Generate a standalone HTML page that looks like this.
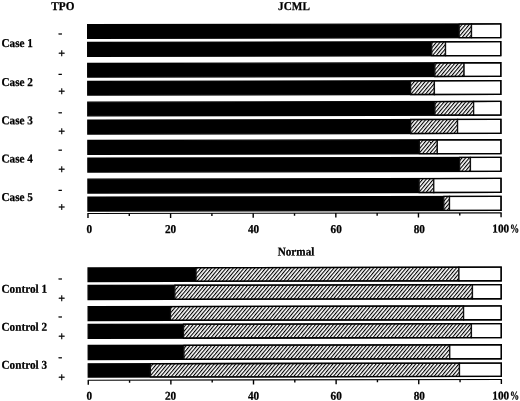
<!DOCTYPE html>
<html><head><meta charset="utf-8"><title>TPO JCML chart</title>
<style>
html,body{margin:0;padding:0;background:#fff;}
body{width:520px;height:401px;overflow:hidden;}
svg{display:block;}
svg text{font-family:"Liberation Serif","Times New Roman",serif;font-weight:bold;font-size:12px;fill:#000;stroke:#000;stroke-width:0.25px;}
</style></head>
<body>
<svg width="520" height="401" viewBox="0 0 520 401">
<defs>
<pattern id="hatch" patternUnits="userSpaceOnUse" width="2.76" height="10" patternTransform="rotate(40)">
<rect x="0" y="0" width="2.76" height="10" fill="#fff"/>
<rect x="0" y="0" width="1.1" height="10" fill="#000"/>
</pattern>
</defs>
<rect width="520" height="401" fill="#fff"/>
<g transform="translate(0,0.0) rotate(-0.1,106,200)">
<rect x="87.95" y="24.65" width="371.55" height="13.65" fill="#000"/>
<rect x="459.50" y="24.65" width="12.30" height="13.65" fill="url(#hatch)" stroke="#111" stroke-width="1.3"/>
<rect x="471.80" y="24.65" width="29.25" height="13.65" fill="#fff" stroke="#111" stroke-width="1.3"/>
<rect x="87.95" y="24.65" width="413.10" height="13.65" fill="none" stroke="#000" stroke-width="1.3"/>
<rect x="87.95" y="42.35" width="344.05" height="13.90" fill="#000"/>
<rect x="432.00" y="42.35" width="13.80" height="13.90" fill="url(#hatch)" stroke="#111" stroke-width="1.3"/>
<rect x="445.80" y="42.35" width="55.25" height="13.90" fill="#fff" stroke="#111" stroke-width="1.3"/>
<rect x="87.95" y="42.35" width="413.10" height="13.90" fill="none" stroke="#000" stroke-width="1.3"/>
<rect x="87.95" y="63.45" width="347.15" height="13.60" fill="#000"/>
<rect x="435.10" y="63.45" width="29.20" height="13.60" fill="url(#hatch)" stroke="#111" stroke-width="1.3"/>
<rect x="464.30" y="63.45" width="36.75" height="13.60" fill="#fff" stroke="#111" stroke-width="1.3"/>
<rect x="87.95" y="63.45" width="413.10" height="13.60" fill="none" stroke="#000" stroke-width="1.3"/>
<rect x="87.95" y="81.35" width="322.85" height="13.70" fill="#000"/>
<rect x="410.80" y="81.35" width="23.80" height="13.70" fill="url(#hatch)" stroke="#111" stroke-width="1.3"/>
<rect x="434.60" y="81.35" width="66.45" height="13.70" fill="#fff" stroke="#111" stroke-width="1.3"/>
<rect x="87.95" y="81.35" width="413.10" height="13.70" fill="none" stroke="#000" stroke-width="1.3"/>
<rect x="87.95" y="102.15" width="347.15" height="13.60" fill="#000"/>
<rect x="435.10" y="102.15" width="38.70" height="13.60" fill="url(#hatch)" stroke="#111" stroke-width="1.3"/>
<rect x="473.80" y="102.15" width="27.25" height="13.60" fill="#fff" stroke="#111" stroke-width="1.3"/>
<rect x="87.95" y="102.15" width="413.10" height="13.60" fill="none" stroke="#000" stroke-width="1.3"/>
<rect x="87.95" y="120.05" width="322.85" height="14.00" fill="#000"/>
<rect x="410.80" y="120.05" width="46.90" height="14.00" fill="url(#hatch)" stroke="#111" stroke-width="1.3"/>
<rect x="457.70" y="120.05" width="43.35" height="14.00" fill="#fff" stroke="#111" stroke-width="1.3"/>
<rect x="87.95" y="120.05" width="413.10" height="14.00" fill="none" stroke="#000" stroke-width="1.3"/>
<rect x="87.95" y="140.45" width="331.55" height="13.80" fill="#000"/>
<rect x="419.50" y="140.45" width="17.90" height="13.80" fill="url(#hatch)" stroke="#111" stroke-width="1.3"/>
<rect x="437.40" y="140.45" width="63.65" height="13.80" fill="#fff" stroke="#111" stroke-width="1.3"/>
<rect x="87.95" y="140.45" width="413.10" height="13.80" fill="none" stroke="#000" stroke-width="1.3"/>
<rect x="87.95" y="158.05" width="371.75" height="14.00" fill="#000"/>
<rect x="459.70" y="158.05" width="10.80" height="14.00" fill="url(#hatch)" stroke="#111" stroke-width="1.3"/>
<rect x="470.50" y="158.05" width="30.55" height="14.00" fill="#fff" stroke="#111" stroke-width="1.3"/>
<rect x="87.95" y="158.05" width="413.10" height="14.00" fill="none" stroke="#000" stroke-width="1.3"/>
<rect x="87.95" y="179.15" width="331.25" height="13.90" fill="#000"/>
<rect x="419.20" y="179.15" width="14.60" height="13.90" fill="url(#hatch)" stroke="#111" stroke-width="1.3"/>
<rect x="433.80" y="179.15" width="67.25" height="13.90" fill="#fff" stroke="#111" stroke-width="1.3"/>
<rect x="87.95" y="179.15" width="413.10" height="13.90" fill="none" stroke="#000" stroke-width="1.3"/>
<rect x="87.95" y="197.05" width="355.85" height="14.00" fill="#000"/>
<rect x="443.80" y="197.05" width="5.70" height="14.00" fill="url(#hatch)" stroke="#111" stroke-width="1.3"/>
<rect x="449.50" y="197.05" width="51.55" height="14.00" fill="#fff" stroke="#111" stroke-width="1.3"/>
<rect x="87.95" y="197.05" width="413.10" height="14.00" fill="none" stroke="#000" stroke-width="1.3"/>
<rect x="87.95" y="267.85" width="107.95" height="13.60" fill="#000"/>
<rect x="195.90" y="267.85" width="262.90" height="13.60" fill="url(#hatch)" stroke="#111" stroke-width="1.3"/>
<rect x="458.80" y="267.85" width="42.25" height="13.60" fill="#fff" stroke="#111" stroke-width="1.3"/>
<rect x="87.95" y="267.85" width="413.10" height="13.60" fill="none" stroke="#000" stroke-width="1.3"/>
<rect x="87.95" y="285.35" width="86.75" height="14.10" fill="#000"/>
<rect x="174.70" y="285.35" width="297.60" height="14.10" fill="url(#hatch)" stroke="#111" stroke-width="1.3"/>
<rect x="472.30" y="285.35" width="28.75" height="14.10" fill="#fff" stroke="#111" stroke-width="1.3"/>
<rect x="87.95" y="285.35" width="413.10" height="14.10" fill="none" stroke="#000" stroke-width="1.3"/>
<rect x="87.95" y="306.65" width="82.35" height="13.80" fill="#000"/>
<rect x="170.30" y="306.65" width="293.10" height="13.80" fill="url(#hatch)" stroke="#111" stroke-width="1.3"/>
<rect x="463.40" y="306.65" width="37.65" height="13.80" fill="#fff" stroke="#111" stroke-width="1.3"/>
<rect x="87.95" y="306.65" width="413.10" height="13.80" fill="none" stroke="#000" stroke-width="1.3"/>
<rect x="87.95" y="324.35" width="95.35" height="13.90" fill="#000"/>
<rect x="183.30" y="324.35" width="287.90" height="13.90" fill="url(#hatch)" stroke="#111" stroke-width="1.3"/>
<rect x="471.20" y="324.35" width="29.85" height="13.90" fill="#fff" stroke="#111" stroke-width="1.3"/>
<rect x="87.95" y="324.35" width="413.10" height="13.90" fill="none" stroke="#000" stroke-width="1.3"/>
<rect x="87.95" y="345.45" width="95.75" height="14.00" fill="#000"/>
<rect x="183.70" y="345.45" width="265.80" height="14.00" fill="url(#hatch)" stroke="#111" stroke-width="1.3"/>
<rect x="449.50" y="345.45" width="51.55" height="14.00" fill="#fff" stroke="#111" stroke-width="1.3"/>
<rect x="87.95" y="345.45" width="413.10" height="14.00" fill="none" stroke="#000" stroke-width="1.3"/>
<rect x="87.95" y="363.75" width="62.15" height="13.30" fill="#000"/>
<rect x="150.10" y="363.75" width="309.10" height="13.30" fill="url(#hatch)" stroke="#111" stroke-width="1.3"/>
<rect x="459.20" y="363.75" width="41.85" height="13.30" fill="#fff" stroke="#111" stroke-width="1.3"/>
<rect x="87.95" y="363.75" width="413.10" height="13.30" fill="none" stroke="#000" stroke-width="1.3"/>
<line x1="87.45" y1="213.5" x2="501.55" y2="213.5" stroke="#000" stroke-width="1.15"/>
<line x1="87.95" y1="213.5" x2="87.95" y2="218.0" stroke="#000" stroke-width="1.4"/>
<line x1="129.26" y1="213.5" x2="129.26" y2="216.1" stroke="#000" stroke-width="1.4"/>
<line x1="170.57" y1="213.5" x2="170.57" y2="218.0" stroke="#000" stroke-width="1.4"/>
<line x1="211.88" y1="213.5" x2="211.88" y2="216.1" stroke="#000" stroke-width="1.4"/>
<line x1="253.19" y1="213.5" x2="253.19" y2="218.0" stroke="#000" stroke-width="1.4"/>
<line x1="294.50" y1="213.5" x2="294.50" y2="216.1" stroke="#000" stroke-width="1.4"/>
<line x1="335.81" y1="213.5" x2="335.81" y2="218.0" stroke="#000" stroke-width="1.4"/>
<line x1="377.12" y1="213.5" x2="377.12" y2="216.1" stroke="#000" stroke-width="1.4"/>
<line x1="418.43" y1="213.5" x2="418.43" y2="218.0" stroke="#000" stroke-width="1.4"/>
<line x1="459.74" y1="213.5" x2="459.74" y2="216.1" stroke="#000" stroke-width="1.4"/>
<line x1="501.05" y1="213.5" x2="501.05" y2="218.0" stroke="#000" stroke-width="1.4"/>
<line x1="87.45" y1="380.2" x2="501.55" y2="380.2" stroke="#000" stroke-width="1.15"/>
<line x1="87.95" y1="380.2" x2="87.95" y2="384.7" stroke="#000" stroke-width="1.4"/>
<line x1="129.26" y1="380.2" x2="129.26" y2="382.8" stroke="#000" stroke-width="1.4"/>
<line x1="170.57" y1="380.2" x2="170.57" y2="384.7" stroke="#000" stroke-width="1.4"/>
<line x1="211.88" y1="380.2" x2="211.88" y2="382.8" stroke="#000" stroke-width="1.4"/>
<line x1="253.19" y1="380.2" x2="253.19" y2="384.7" stroke="#000" stroke-width="1.4"/>
<line x1="294.50" y1="380.2" x2="294.50" y2="382.8" stroke="#000" stroke-width="1.4"/>
<line x1="335.81" y1="380.2" x2="335.81" y2="384.7" stroke="#000" stroke-width="1.4"/>
<line x1="377.12" y1="380.2" x2="377.12" y2="382.8" stroke="#000" stroke-width="1.4"/>
<line x1="418.43" y1="380.2" x2="418.43" y2="384.7" stroke="#000" stroke-width="1.4"/>
<line x1="459.74" y1="380.2" x2="459.74" y2="382.8" stroke="#000" stroke-width="1.4"/>
<line x1="501.05" y1="380.2" x2="501.05" y2="384.7" stroke="#000" stroke-width="1.4"/>
</g>
<text transform="translate(51.30,9.90) rotate(0.05) scale(0.935,1)">TPO</text>
<text transform="translate(294.00,9.90) rotate(0.05) scale(0.935,1)" text-anchor="middle">JCML</text>
<text transform="translate(296.00,255.50) rotate(0.05) scale(0.935,1)" text-anchor="middle">Normal</text>
<text transform="translate(1.50,46.90) rotate(0.05) scale(0.935,1)">Case 1</text>
<text transform="translate(58.30,36.75) rotate(0.05) scale(1,1)" font-size="13">-</text>
<text transform="translate(58.30,57.17) rotate(0.05) scale(1,1)" font-size="14">+</text>
<text transform="translate(1.50,86.00) rotate(0.05) scale(0.935,1)">Case 2</text>
<text transform="translate(58.30,77.25) rotate(0.05) scale(1,1)" font-size="13">-</text>
<text transform="translate(58.30,95.17) rotate(0.05) scale(1,1)" font-size="14">+</text>
<text transform="translate(1.50,124.20) rotate(0.05) scale(0.935,1)">Case 3</text>
<text transform="translate(58.30,115.45) rotate(0.05) scale(1,1)" font-size="13">-</text>
<text transform="translate(58.30,135.37) rotate(0.05) scale(1,1)" font-size="14">+</text>
<text transform="translate(1.50,162.55) rotate(0.05) scale(0.935,1)">Case 4</text>
<text transform="translate(58.30,153.05) rotate(0.05) scale(1,1)" font-size="13">-</text>
<text transform="translate(58.30,173.17) rotate(0.05) scale(1,1)" font-size="14">+</text>
<text transform="translate(1.50,200.90) rotate(0.05) scale(0.935,1)">Case 5</text>
<text transform="translate(58.30,193.25) rotate(0.05) scale(1,1)" font-size="13">-</text>
<text transform="translate(58.30,210.97) rotate(0.05) scale(1,1)" font-size="14">+</text>
<text transform="translate(1.50,292.80) rotate(0.05) scale(0.935,1)">Control 1</text>
<text transform="translate(58.30,281.85) rotate(0.05) scale(1,1)" font-size="13">-</text>
<text transform="translate(58.30,302.37) rotate(0.05) scale(1,1)" font-size="14">+</text>
<text transform="translate(1.50,330.80) rotate(0.05) scale(0.935,1)">Control 2</text>
<text transform="translate(58.30,319.65) rotate(0.05) scale(1,1)" font-size="13">-</text>
<text transform="translate(58.30,340.17) rotate(0.05) scale(1,1)" font-size="14">+</text>
<text transform="translate(1.50,368.80) rotate(0.05) scale(0.935,1)">Control 3</text>
<text transform="translate(58.30,360.45) rotate(0.05) scale(1,1)" font-size="13">-</text>
<text transform="translate(58.30,381.17) rotate(0.05) scale(1,1)" font-size="14">+</text>
<text transform="translate(89.25,233.00) rotate(0.05) scale(0.935,1)" text-anchor="middle">0</text>
<text transform="translate(170.57,233.00) rotate(0.05) scale(0.935,1)" text-anchor="middle">20</text>
<text transform="translate(253.59,233.00) rotate(0.05) scale(0.935,1)" text-anchor="middle">40</text>
<text transform="translate(336.21,233.00) rotate(0.05) scale(0.935,1)" text-anchor="middle">60</text>
<text transform="translate(419.33,233.00) rotate(0.05) scale(0.935,1)" text-anchor="middle">80</text>
<text transform="translate(500.75,232.60) rotate(0.05) scale(0.935,1)" text-anchor="middle">100</text>
<text transform="translate(510.05,232.60) rotate(0.05) scale(0.76,1)">%</text>
<text transform="translate(89.25,399.80) rotate(0.05) scale(0.935,1)" text-anchor="middle">0</text>
<text transform="translate(170.57,399.80) rotate(0.05) scale(0.935,1)" text-anchor="middle">20</text>
<text transform="translate(253.59,399.80) rotate(0.05) scale(0.935,1)" text-anchor="middle">40</text>
<text transform="translate(336.21,399.80) rotate(0.05) scale(0.935,1)" text-anchor="middle">60</text>
<text transform="translate(419.33,399.80) rotate(0.05) scale(0.935,1)" text-anchor="middle">80</text>
<text transform="translate(500.75,399.50) rotate(0.05) scale(0.935,1)" text-anchor="middle">100</text>
<text transform="translate(510.05,399.50) rotate(0.05) scale(0.76,1)">%</text>
</svg>
</body></html>
